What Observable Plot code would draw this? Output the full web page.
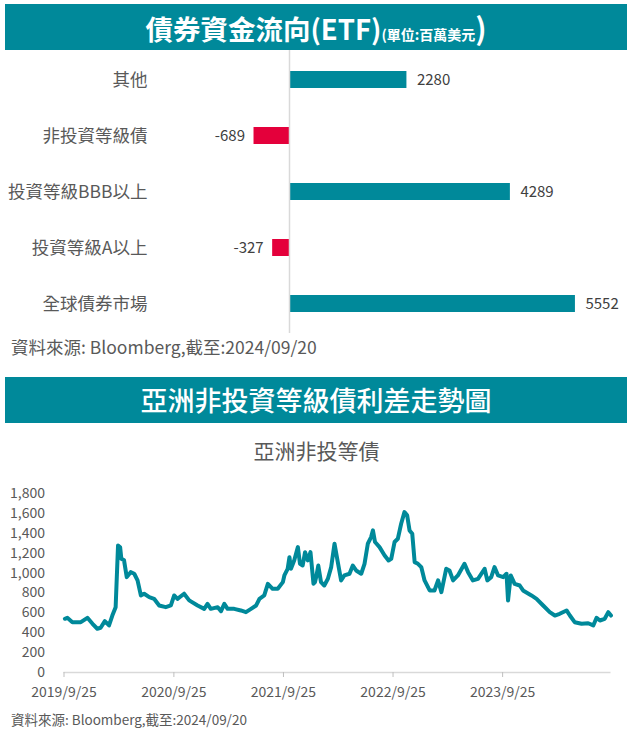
<!DOCTYPE html>
<html>
<head>
<meta charset="utf-8">
<script src="https://cdn.jsdelivr.net/npm/d3@7"></script>
<script src="https://cdn.jsdelivr.net/npm/@observablehq/plot@0.6"></script>
<style>
  html, body { margin: 0; padding: 0; background: #fff; }
  body { font-family: "Noto Sans CJK TC", "Noto Sans", sans-serif; }
  #wrap { position: relative; width: 633px; height: 731px; overflow: hidden; }
  .hdr { position: absolute; left: 5px; width: 622px; background: #00899A; color: #fff; text-align: center; white-space: nowrap; }
  #h1 { top: 4px; height: 46px; line-height: 46px; font-size: 27.5px; font-weight: 700; }
  #h1 .small { font-size: 14px; font-weight: 700; }
  #h1 .big { font-size: 30px; }
  #h2 { top: 377px; height: 46px; line-height: 46px; font-size: 27px; font-weight: 500; }
  .src { position: absolute; left: 11px; color: #595959; white-space: nowrap; }
  #src1 { top: 334px; font-size: 17.5px; }
  #src2 { top: 709px; font-size: 13.5px; }
  #sub { position: absolute; top: 435px; left: 0; width: 633px; text-align: center; font-size: 21px; color: #595959; }
  #bars { position: absolute; top: 50px; left: 0; }
  #line { position: absolute; top: 470px; left: 0; }
</style>
</head>
<body>
<div id="wrap">
  <div class="hdr" id="h1">債券資金流向(ETF)<span class="small">(單位:百萬美元</span><span class="big">)</span></div>
  <div id="bars"></div>
  <div class="src" id="src1">資料來源: Bloomberg,截至:2024/09/20</div>
  <div class="hdr" id="h2">亞洲非投資等級債利差走勢圖</div>
  <div id="sub">亞洲非投等債</div>
  <div id="line"></div>
  <div class="src" id="src2">資料來源: Bloomberg,截至:2024/09/20</div>
</div>
<script>
// ---- Bond fund flows (ETF), USD millions ----
const flowCategories = ["其他", "非投資等級債", "投資等級BBB以上", "投資等級A以上", "全球債券市場"];
const flowValues = [2280, -689, 4289, -327, 5552];

// ---- Asia high-yield spread ----
const spreadDates = [
  "2019-09-28","2019-10-06","2019-10-23","2019-11-20","2019-12-12","2019-12-29","2020-01-14","2020-01-25",
  "2020-02-08","2020-02-22","2020-03-04","2020-03-15","2020-03-23","2020-03-30","2020-04-03","2020-04-12",
  "2020-04-21","2020-05-04","2020-05-16","2020-05-27","2020-06-07","2020-06-18","2020-07-05","2020-07-21",
  "2020-08-07","2020-08-29","2020-09-15","2020-09-26","2020-10-07","2020-10-29","2020-11-15","2020-12-13",
  "2021-01-04","2021-01-15","2021-01-26","2021-02-18","2021-03-01","2021-03-12","2021-03-23","2021-04-14",
  "2021-05-06","2021-05-23","2021-06-09","2021-06-26","2021-07-07","2021-07-23","2021-08-04","2021-08-20",
  "2021-09-06","2021-09-23","2021-09-28","2021-10-09","2021-10-15","2021-10-20","2021-10-31","2021-11-12",
  "2021-11-19","2021-11-28","2021-12-06","2021-12-15","2021-12-24","2022-01-03","2022-01-08","2022-01-12",
  "2022-01-19","2022-01-28","2022-02-08","2022-02-20","2022-03-03","2022-03-14","2022-03-25","2022-04-05",
  "2022-04-16","2022-05-03","2022-05-14","2022-05-25","2022-06-11","2022-06-22","2022-07-03","2022-07-14",
  "2022-07-20","2022-07-27","2022-08-11","2022-08-28","2022-09-10","2022-09-19","2022-09-30","2022-10-11",
  "2022-10-22","2022-11-02","2022-11-11","2022-11-19","2022-11-28","2022-12-06","2022-12-17","2022-12-28",
  "2023-01-08","2023-01-25","2023-02-10","2023-02-22","2023-03-05","2023-03-21","2023-04-01","2023-04-13",
  "2023-04-29","2023-05-21","2023-06-02","2023-06-18","2023-07-05","2023-07-27","2023-08-05","2023-08-18",
  "2023-08-29","2023-09-10","2023-09-27","2023-10-08","2023-10-13","2023-10-22","2023-11-04","2023-11-21",
  "2023-12-02","2023-12-30","2024-01-16","2024-02-07","2024-02-29","2024-03-17","2024-04-02","2024-04-25",
  "2024-05-06","2024-05-22","2024-06-14","2024-07-06","2024-07-23","2024-08-03","2024-08-14","2024-08-30",
  "2024-09-11","2024-09-20"
];
const spreadValues = [
  540, 550, 506, 506, 550, 490, 440, 450,
  516, 473, 573, 657, 1278, 1260, 1144, 1128,
  959, 1009, 993, 926, 775, 792, 758, 741,
  674, 657, 674, 775, 741, 792, 725, 674,
  640, 690, 640, 657, 617, 690, 640, 640,
  624, 607, 640, 674, 741, 775, 892, 842,
  842, 909, 976, 1043, 1160, 1043, 1128, 1261,
  1093, 1076, 1210, 1127, 1210, 892, 909, 959,
  1076, 909, 875, 942, 1060, 1295, 1110, 926,
  976, 993, 1076, 1026, 993, 1093, 1295, 1362,
  1429, 1312, 1261, 1177, 1127, 1143, 1312, 1345,
  1496, 1613, 1580, 1429, 1395, 1110, 1093, 1060,
  926, 825, 825, 926, 808, 1043, 1026, 926,
  976, 1093, 1009, 926, 942, 1043, 926, 959,
  1060, 976, 959, 993, 724, 976, 892, 875,
  825, 775, 741, 674, 607, 573, 590, 624,
  573, 506, 490, 495, 473, 550, 523, 540,
  607, 573
];
const xTickDates = ["2019-09-25", "2020-09-25", "2021-09-25", "2022-09-25", "2023-09-25"];
const xDomainDates = ["2019-09-25", "2024-09-20"];
const yTicks = [0, 200, 400, 600, 800, 1000, 1200, 1400, 1600, 1800];

const TEAL = "#00899A";
const RED = "#E4003B";
const FONT = "'Noto Sans CJK TC', 'Noto Sans', sans-serif";

// ---- Bar chart ----
const flows = flowCategories.map((c, i) => ({category: c, value: flowValues[i]}));
const barPlot = Plot.plot({
  width: 633,
  height: 283,
  marginTop: 0,
  marginBottom: 0,
  marginLeft: 237.5,
  marginRight: 35,
  style: {fontFamily: FONT, background: "transparent"},
  x: {domain: [-1000, 6000], axis: null},
  y: {domain: flowCategories, paddingInner: 0.69, paddingOuter: 0.354, label: null},
  marks: [
    Plot.axisY({tickSize: 0, tickPadding: 90.5, fontSize: 17.5, fill: "#595959", label: null}),
    Plot.barX(flows, {x: "value", y: "category", fill: d => d.value < 0 ? RED : TEAL}),
    Plot.ruleX([0], {stroke: "#D9D9D9", strokeWidth: 1.5}),
    Plot.text(flows.filter(d => d.value >= 0), {x: "value", y: "category", text: d => String(d.value), textAnchor: "start", dx: 10, fontSize: 15, fill: "#404040"}),
    Plot.text(flows.filter(d => d.value < 0), {x: "value", y: "category", text: d => String(d.value), textAnchor: "end", dx: -9, fontSize: 15, fill: "#404040"})
  ]
});
document.getElementById("bars").appendChild(barPlot);

// ---- Line chart ----
const spread = spreadDates.map((d, i) => ({date: new Date(d), value: spreadValues[i]}));
const fmtDate = d => `${d.getUTCFullYear()}/${d.getUTCMonth() + 1}/${d.getUTCDate()}`;
const linePlot = Plot.plot({
  width: 633,
  height: 240,
  marginTop: 23,
  marginBottom: 38,
  marginLeft: 63.5,
  marginRight: 22.5,
  style: {fontFamily: FONT, background: "transparent"},
  x: {type: "utc", domain: xDomainDates.map(d => new Date(d)), label: null},
  y: {domain: [0, 1800], label: null},
  marks: [
    Plot.ruleY([0], {stroke: "#D9D9D9", strokeWidth: 1.5}),
    Plot.axisY({ticks: yTicks, tickSize: 0, tickPadding: 19, tickFormat: d3.format(","), fontSize: 14, fill: "#595959", label: null}),
    Plot.axisX({ticks: xTickDates.map(d => new Date(d)), tickSize: 5, stroke: "#BFBFBF", tickPadding: 10, tickFormat: fmtDate, fontSize: 14, fill: "#595959", label: null}),
    Plot.lineY(spread, {x: "date", y: "value", stroke: TEAL, strokeWidth: 4, strokeLinejoin: "round", strokeLinecap: "round"})
  ]
});
document.getElementById("line").appendChild(linePlot);
</script>
</body>
</html>
